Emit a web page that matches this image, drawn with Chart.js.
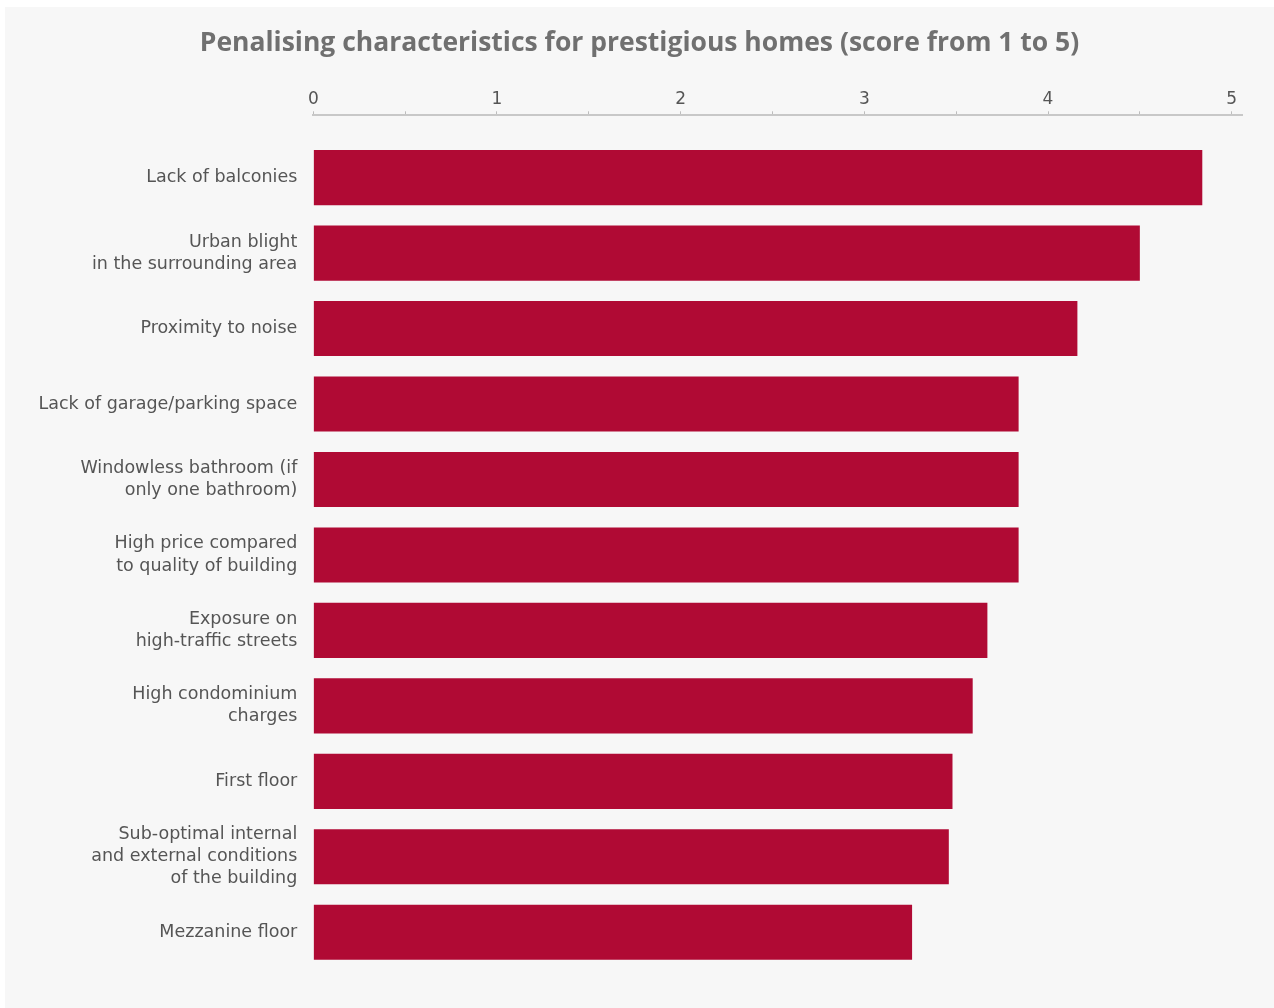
<!DOCTYPE html>
<html>
<head>
<meta charset="utf-8">
<script src="https://cdn.jsdelivr.net/npm/chart.js@4/dist/chart.umd.min.js"></script>
<style>
  html, body { margin: 0; padding: 0; background: #ffffff; }
  #panel { position: absolute; left: 5px; top: 7px; width: 1269px; height: 1001px; background: #f7f7f7; }
</style>
</head>
<body>
<div id="panel"><canvas id="chart" width="1269" height="1001"></canvas></div>
<script>
const titleText = "Penalising characteristics for prestigious homes (score from 1 to 5)";

const categories = [
  "Lack of balconies",
  ["Urban blight", "in the surrounding area"],
  "Proximity to noise",
  "Lack of garage/parking space",
  ["Windowless bathroom (if", "only one bathroom)"],
  ["High price compared", "to quality of building"],
  ["Exposure on", "high-traffic streets"],
  ["High condominium", "charges"],
  "First floor",
  ["Sub-optimal internal", "and external conditions", "of the building"],
  "Mezzanine floor",
];

const scores = [4.84, 4.5, 4.16, 3.84, 3.84, 3.84, 3.67, 3.59, 3.48, 3.46, 3.26];

// tick positions on the score axis (only whole numbers get a label)
const tickValues = [0, 0.5, 1, 1.5, 2, 2.5, 3, 3.5, 4, 4.5, 5];

const labelFont = "'DejaVu Sans', 'Noto Sans', sans-serif";

const config = {
  type: "bar",
  data: {
    labels: categories,
    datasets: [
      {
        data: scores,
        xAxisID: "x",
        yAxisID: "y",
        backgroundColor: "#b00a34",
        borderWidth: 0,
        barPercentage: 0.73,
        categoryPercentage: 1.0,
      },
    ],
  },
  options: {
    indexAxis: "y",
    responsive: false,
    animation: false,
    layout: {
      padding: { top: 0, left: 0, right: 0, bottom: 38 },
    },
    plugins: {
      legend: { display: false },
      tooltip: { enabled: false },
      title: {
        display: true,
        text: titleText,
        color: "#707070",
        font: { family: "'Open Sans', sans-serif", size: 26.5, weight: "bold" },
        padding: { top: 21, bottom: 8 },
      },
    },
    scales: {
      x: {
        position: "top",
        weight: 1,
        min: 0,
        max: 5.06,
        afterBuildTicks: (scale) => {
          scale.ticks = tickValues.map((v) => ({ value: v }));
        },
        afterFit: (scale) => {
          scale.height = 47.5;
        },
        grid: {
          drawOnChartArea: false,
          drawTicks: true,
          tickLength: 4,
          color: "#bdbdbd",
          lineWidth: 1,
        },
        border: { display: true, color: "#c8c8c8", width: 2 },
        ticks: {
          padding: 2,
          color: "#555555",
          font: { family: labelFont, size: 17 },
          maxRotation: 0,
          callback: (v) => (Number.isInteger(v) ? String(v) : ""),
        },
      },
      y: {
        offset: true,
        afterFit: (scale) => {
          scale.width = 308.3;
        },
        grid: { display: false, drawTicks: false },
        border: { display: false },
        ticks: {
          padding: 16,
          color: "#555555",
          font: { family: labelFont, size: 17.5, lineHeight: 1.26 },
        },
      },
      // empty axis only used as a gap between the score axis and the first bar
      gap: {
        type: "linear",
        axis: "x",
        position: "top",
        weight: 0,
        display: true,
        afterFit: (scale) => {
          scale.height = 24.6;
        },
        grid: { display: false, drawTicks: false },
        border: { display: false },
        ticks: { display: false },
      },
      // empty axis keeping the right margin so the title stays centred on the panel
      rgap: {
        type: "linear",
        axis: "y",
        position: "right",
        display: true,
        afterFit: (scale) => {
          scale.width = 31.3;
        },
        grid: { display: false, drawTicks: false },
        border: { display: false },
        ticks: { display: false },
      },
    },
  },
};

new Chart(document.getElementById("chart"), config);
</script>
</body>
</html>
